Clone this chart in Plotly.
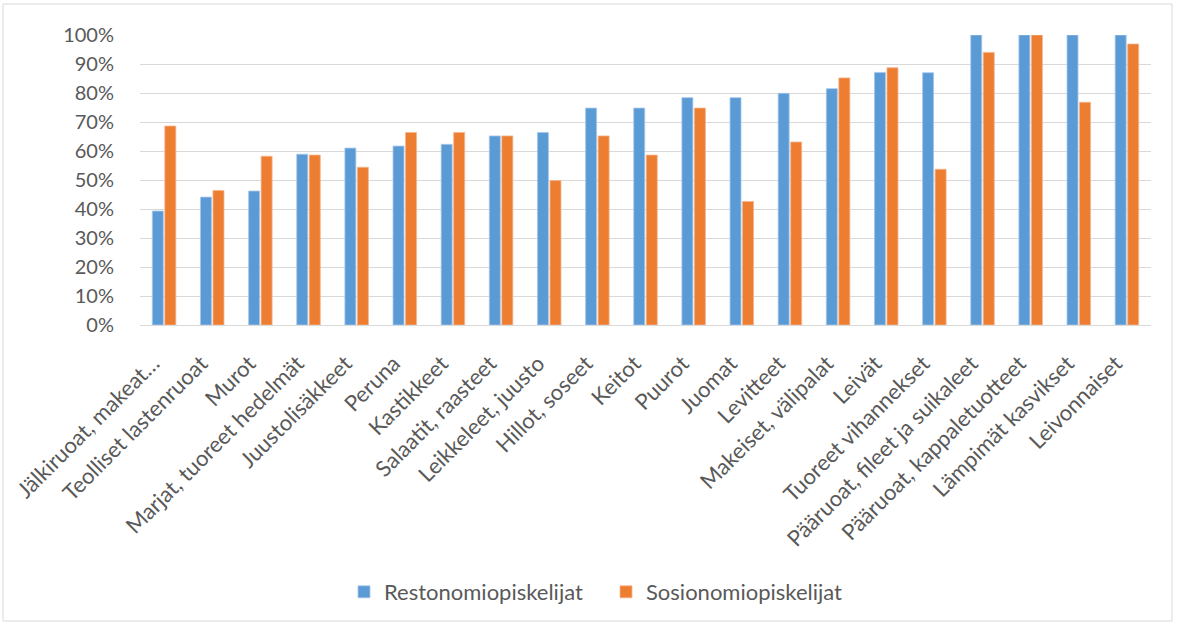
import plotly.graph_objects as go

categories = [
    "Jälkiruoat, makeat…", "Teolliset lastenruoat", "Murot", "Marjat, tuoreet hedelmät",
    "Juustolisäkkeet", "Peruna", "Kastikkeet", "Salaatit, raasteet", "Leikkeleet, juusto",
    "Hillot, soseet", "Keitot", "Puurot", "Juomat", "Levitteet", "Makeiset, välipalat",
    "Leivät", "Tuoreet vihannekset", "Pääruoat, fileet ja suikaleet",
    "Pääruoat, kappaletuotteet", "Lämpimät kasvikset", "Leivonnaiset",
]
restonomi = [39.3, 44.1, 46.2, 58.9, 61.0, 61.7, 62.3, 65.2, 66.4, 74.8, 74.8,
             78.4, 78.4, 79.9, 81.5, 87.1, 87.0, 100, 100, 100, 100]
sosionomi = [68.6, 46.4, 58.2, 58.6, 54.4, 66.4, 66.4, 65.2, 49.8, 65.2, 58.6,
             74.8, 42.6, 63.1, 85.2, 88.7, 53.7, 94.0, 100, 76.8, 96.9]
y_ticks = list(range(0, 101, 10))
y_tick_labels = [f"{v}%" for v in y_ticks]

fig = go.Figure()
fig.add_trace(go.Bar(name="Restonomiopiskelijat", x=categories, y=restonomi,
                     marker=dict(color="#5b9bd5", line=dict(color="#a9c8ea", width=0.8))))
fig.add_trace(go.Bar(name="Sosionomiopiskelijat", x=categories, y=sosionomi,
                     marker=dict(color="#ed7d31", line=dict(color="#f5b58e", width=0.8))))

W, H = 1183, 626
L, R, T, B = 140, 32, 35, 301
pw, ph = W - L - R, H - T - B

def px(x):
    return (x - L) / pw

def py(y):
    return (H - B - y) / ph

fig.update_layout(
    width=W, height=H,
    margin=dict(l=L, r=R, t=T, b=B, autoexpand=False),
    paper_bgcolor="white", plot_bgcolor="white",
    font=dict(family="Lato, Open Sans, sans-serif", color="#595959", size=20),
    barmode="group", bargap=0.48, bargroupgap=0.12,
    showlegend=True,
    legend=dict(orientation="h", x=px(344), xanchor="left", y=py(592), yanchor="middle",
                font=dict(size=22, color="#595959"), itemwidth=30, entrywidth=217,
                entrywidthmode="pixels", traceorder="normal"),
    xaxis=dict(tickangle=-45, showgrid=False, showline=True, linecolor="#d9d9d9",
               linewidth=1, ticks="", ticklabelstandoff=16, ticklabelshift=-11,
               tickfont=dict(size=22, color="#595959")),
    yaxis=dict(range=[0, 100], tickvals=y_ticks, ticktext=y_tick_labels,
               showgrid=True, gridcolor="#d9d9d9", gridwidth=1, zeroline=False,
               showline=False, ticks="", ticklabelstandoff=25,
               tickfont=dict(size=20, color="#595959")),
    shapes=[dict(type="rect", xref="paper", yref="paper",
                 x0=px(3), x1=px(1172), y0=py(621), y1=py(4),
                 line=dict(color="#d9d9d9", width=1), fillcolor="rgba(0,0,0,0)", layer="below")],
)

fig.write_html("out.html")
